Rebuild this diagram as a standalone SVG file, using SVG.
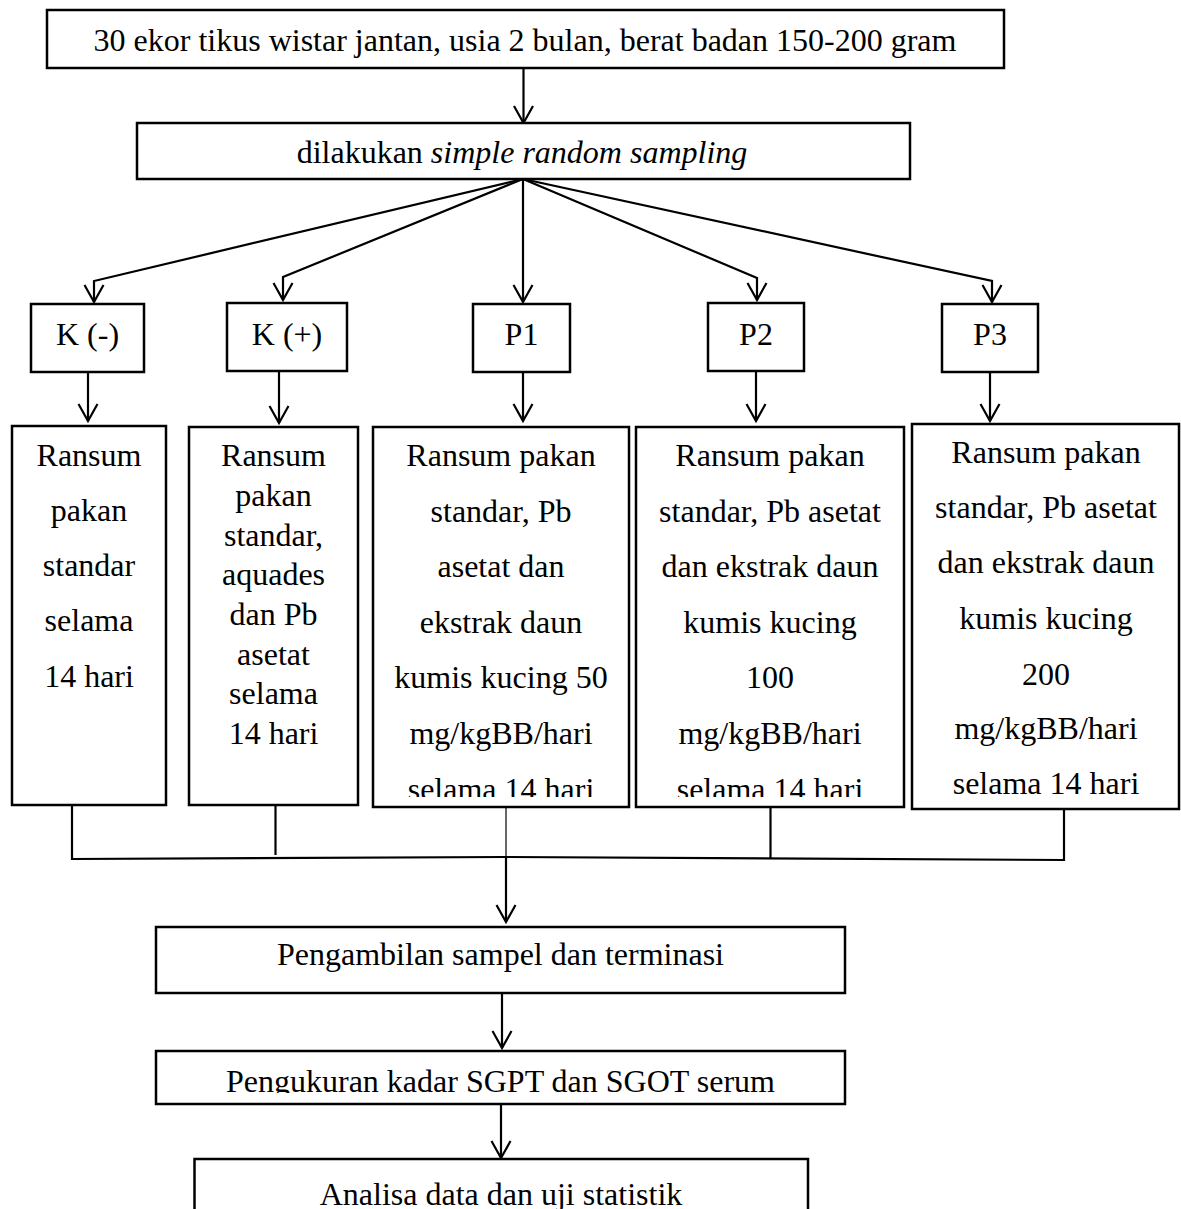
<svg xmlns="http://www.w3.org/2000/svg" width="1181" height="1209" viewBox="0 0 1181 1209">
<style>
.box{fill:#fff;stroke:#000;stroke-width:2.5}
.ln{fill:none;stroke:#000;stroke-width:2.2}
.thin{fill:none;stroke:#000;stroke-width:1.2}
text{font-family:"Liberation Serif","Times New Roman",serif;font-size:32px;fill:#000;text-anchor:middle}
.it{font-style:italic}
</style>
<defs>
<marker id="arr" viewBox="-20 -12 24 24" markerWidth="24" markerHeight="24" refX="0" refY="0" orient="auto" markerUnits="userSpaceOnUse" overflow="visible">
<path d="M-17,-9.5 L0,0 L-17,9.5" fill="none" stroke="#000" stroke-width="2.2"/>
</marker>
<clipPath id="c3"><rect x="373" y="427" width="256" height="370"/></clipPath>
<clipPath id="c4"><rect x="636" y="427" width="268" height="370"/></clipPath>
<clipPath id="c7"><rect x="156" y="1051" width="689" height="42"/></clipPath>
</defs>

<g id="connectors">
<line class="ln" x1="523.5" y1="68" x2="523.5" y2="123" marker-end="url(#arr)"/>
<polyline class="ln" points="523,179 94,281 94,302" marker-end="url(#arr)"/>
<polyline class="ln" points="523,179 283,277 283,300" marker-end="url(#arr)"/>
<line class="ln" x1="523" y1="179" x2="523" y2="302" marker-end="url(#arr)"/>
<polyline class="ln" points="523,179 757,278 757,300" marker-end="url(#arr)"/>
<polyline class="ln" points="523,179 992,281 992,302" marker-end="url(#arr)"/>
<line class="ln" x1="88" y1="372" x2="88" y2="421" marker-end="url(#arr)"/>
<line class="ln" x1="279" y1="371" x2="279" y2="423" marker-end="url(#arr)"/>
<line class="ln" x1="523" y1="372" x2="523" y2="421" marker-end="url(#arr)"/>
<line class="ln" x1="756" y1="371" x2="756" y2="421" marker-end="url(#arr)"/>
<line class="ln" x1="990" y1="372" x2="990" y2="421" marker-end="url(#arr)"/>
<path class="ln" d="M72,805 V859 L506,857 L1064,860 V809"/>
<line class="ln" x1="275.5" y1="805" x2="275.5" y2="855"/>
<line class="ln" x1="770.5" y1="807" x2="770.5" y2="858"/>
<line class="thin" x1="506" y1="807" x2="506" y2="858"/>
<line class="ln" x1="506" y1="857" x2="506" y2="922" marker-end="url(#arr)"/>
<line class="ln" x1="502" y1="993" x2="502" y2="1048" marker-end="url(#arr)"/>
<line class="ln" x1="501" y1="1104" x2="501" y2="1158" marker-end="url(#arr)"/>
</g>

<g id="n-start">
<rect class="box" x="47" y="10" width="957" height="58"/>
<text x="525" y="51">30 ekor tikus wistar jantan, usia 2 bulan, berat badan 150-200 gram</text>
</g>
<g id="n-sampling">
<rect class="box" x="137" y="123" width="773" height="56"/>
<text x="522" y="163">dilakukan <tspan class="it">simple random sampling</tspan></text>
</g>

<g id="n-kneg">
<rect class="box" x="31" y="304" width="113" height="68"/>
<text x="87.5" y="345">K (-)</text>
</g>
<g id="n-kpos">
<rect class="box" x="227" y="303" width="120" height="68"/>
<text x="287" y="345">K (+)</text>
</g>
<g id="n-p1">
<rect class="box" x="473" y="304" width="97" height="68"/>
<text x="521.5" y="345">P1</text>
</g>
<g id="n-p2">
<rect class="box" x="708" y="303" width="96" height="68"/>
<text x="756" y="345">P2</text>
</g>
<g id="n-p3">
<rect class="box" x="942" y="304" width="96" height="68"/>
<text x="990" y="345">P3</text>
</g>

<g id="n-kneg-desc">
<rect class="box" x="12" y="426" width="154" height="379"/>
<text x="89" y="466">Ransum</text>
<text x="89" y="521">pakan</text>
<text x="89" y="576">standar</text>
<text x="89" y="631">selama</text>
<text x="89" y="687">14 hari</text>
</g>
<g id="n-kpos-desc">
<rect class="box" x="189" y="427" width="169" height="378"/>
<text x="273.5" y="466">Ransum</text>
<text x="273.5" y="506">pakan</text>
<text x="273.5" y="545.5">standar,</text>
<text x="273.5" y="585">aquades</text>
<text x="273.5" y="625">dan Pb</text>
<text x="273.5" y="664.5">asetat</text>
<text x="273.5" y="704">selama</text>
<text x="273.5" y="743.5">14 hari</text>
</g>
<g id="n-p1-desc">
<rect class="box" x="373" y="427" width="256" height="380"/>
<g clip-path="url(#c3)">
<text x="501" y="466">Ransum pakan</text>
<text x="501" y="521.5">standar, Pb</text>
<text x="501" y="577">asetat dan</text>
<text x="501" y="632.5">ekstrak daun</text>
<text x="501" y="688">kumis kucing 50</text>
<text x="501" y="743.5">mg/kgBB/hari</text>
<text x="501" y="800">selama 14 hari</text>
</g>
</g>
<g id="n-p2-desc">
<rect class="box" x="636" y="427" width="268" height="380"/>
<g clip-path="url(#c4)">
<text x="770" y="466">Ransum pakan</text>
<text x="770" y="521.5">standar, Pb asetat</text>
<text x="770" y="577">dan ekstrak daun</text>
<text x="770" y="632.5">kumis kucing</text>
<text x="770" y="688">100</text>
<text x="770" y="743.5">mg/kgBB/hari</text>
<text x="770" y="800">selama 14 hari</text>
</g>
</g>
<g id="n-p3-desc">
<rect class="box" x="912" y="424" width="267" height="385"/>
<text x="1046" y="463">Ransum pakan</text>
<text x="1046" y="518">standar, Pb asetat</text>
<text x="1046" y="573">dan ekstrak daun</text>
<text x="1046" y="629">kumis kucing</text>
<text x="1046" y="685">200</text>
<text x="1046" y="739">mg/kgBB/hari</text>
<text x="1046" y="794">selama 14 hari</text>
</g>

<g id="n-terminasi">
<rect class="box" x="156" y="927" width="689" height="66"/>
<text x="500.5" y="965">Pengambilan sampel dan terminasi</text>
</g>
<g id="n-ukur">
<rect class="box" x="156" y="1051" width="689" height="53"/>
<text x="500.5" y="1092" clip-path="url(#c7)">Pengukuran kadar SGPT dan SGOT serum</text>
</g>
<g id="n-analisa">
<path class="box" d="M194.5,1215 V1159 H808 V1215"/>
<text x="501" y="1205">Analisa data dan uji statistik</text>
</g>
</svg>
